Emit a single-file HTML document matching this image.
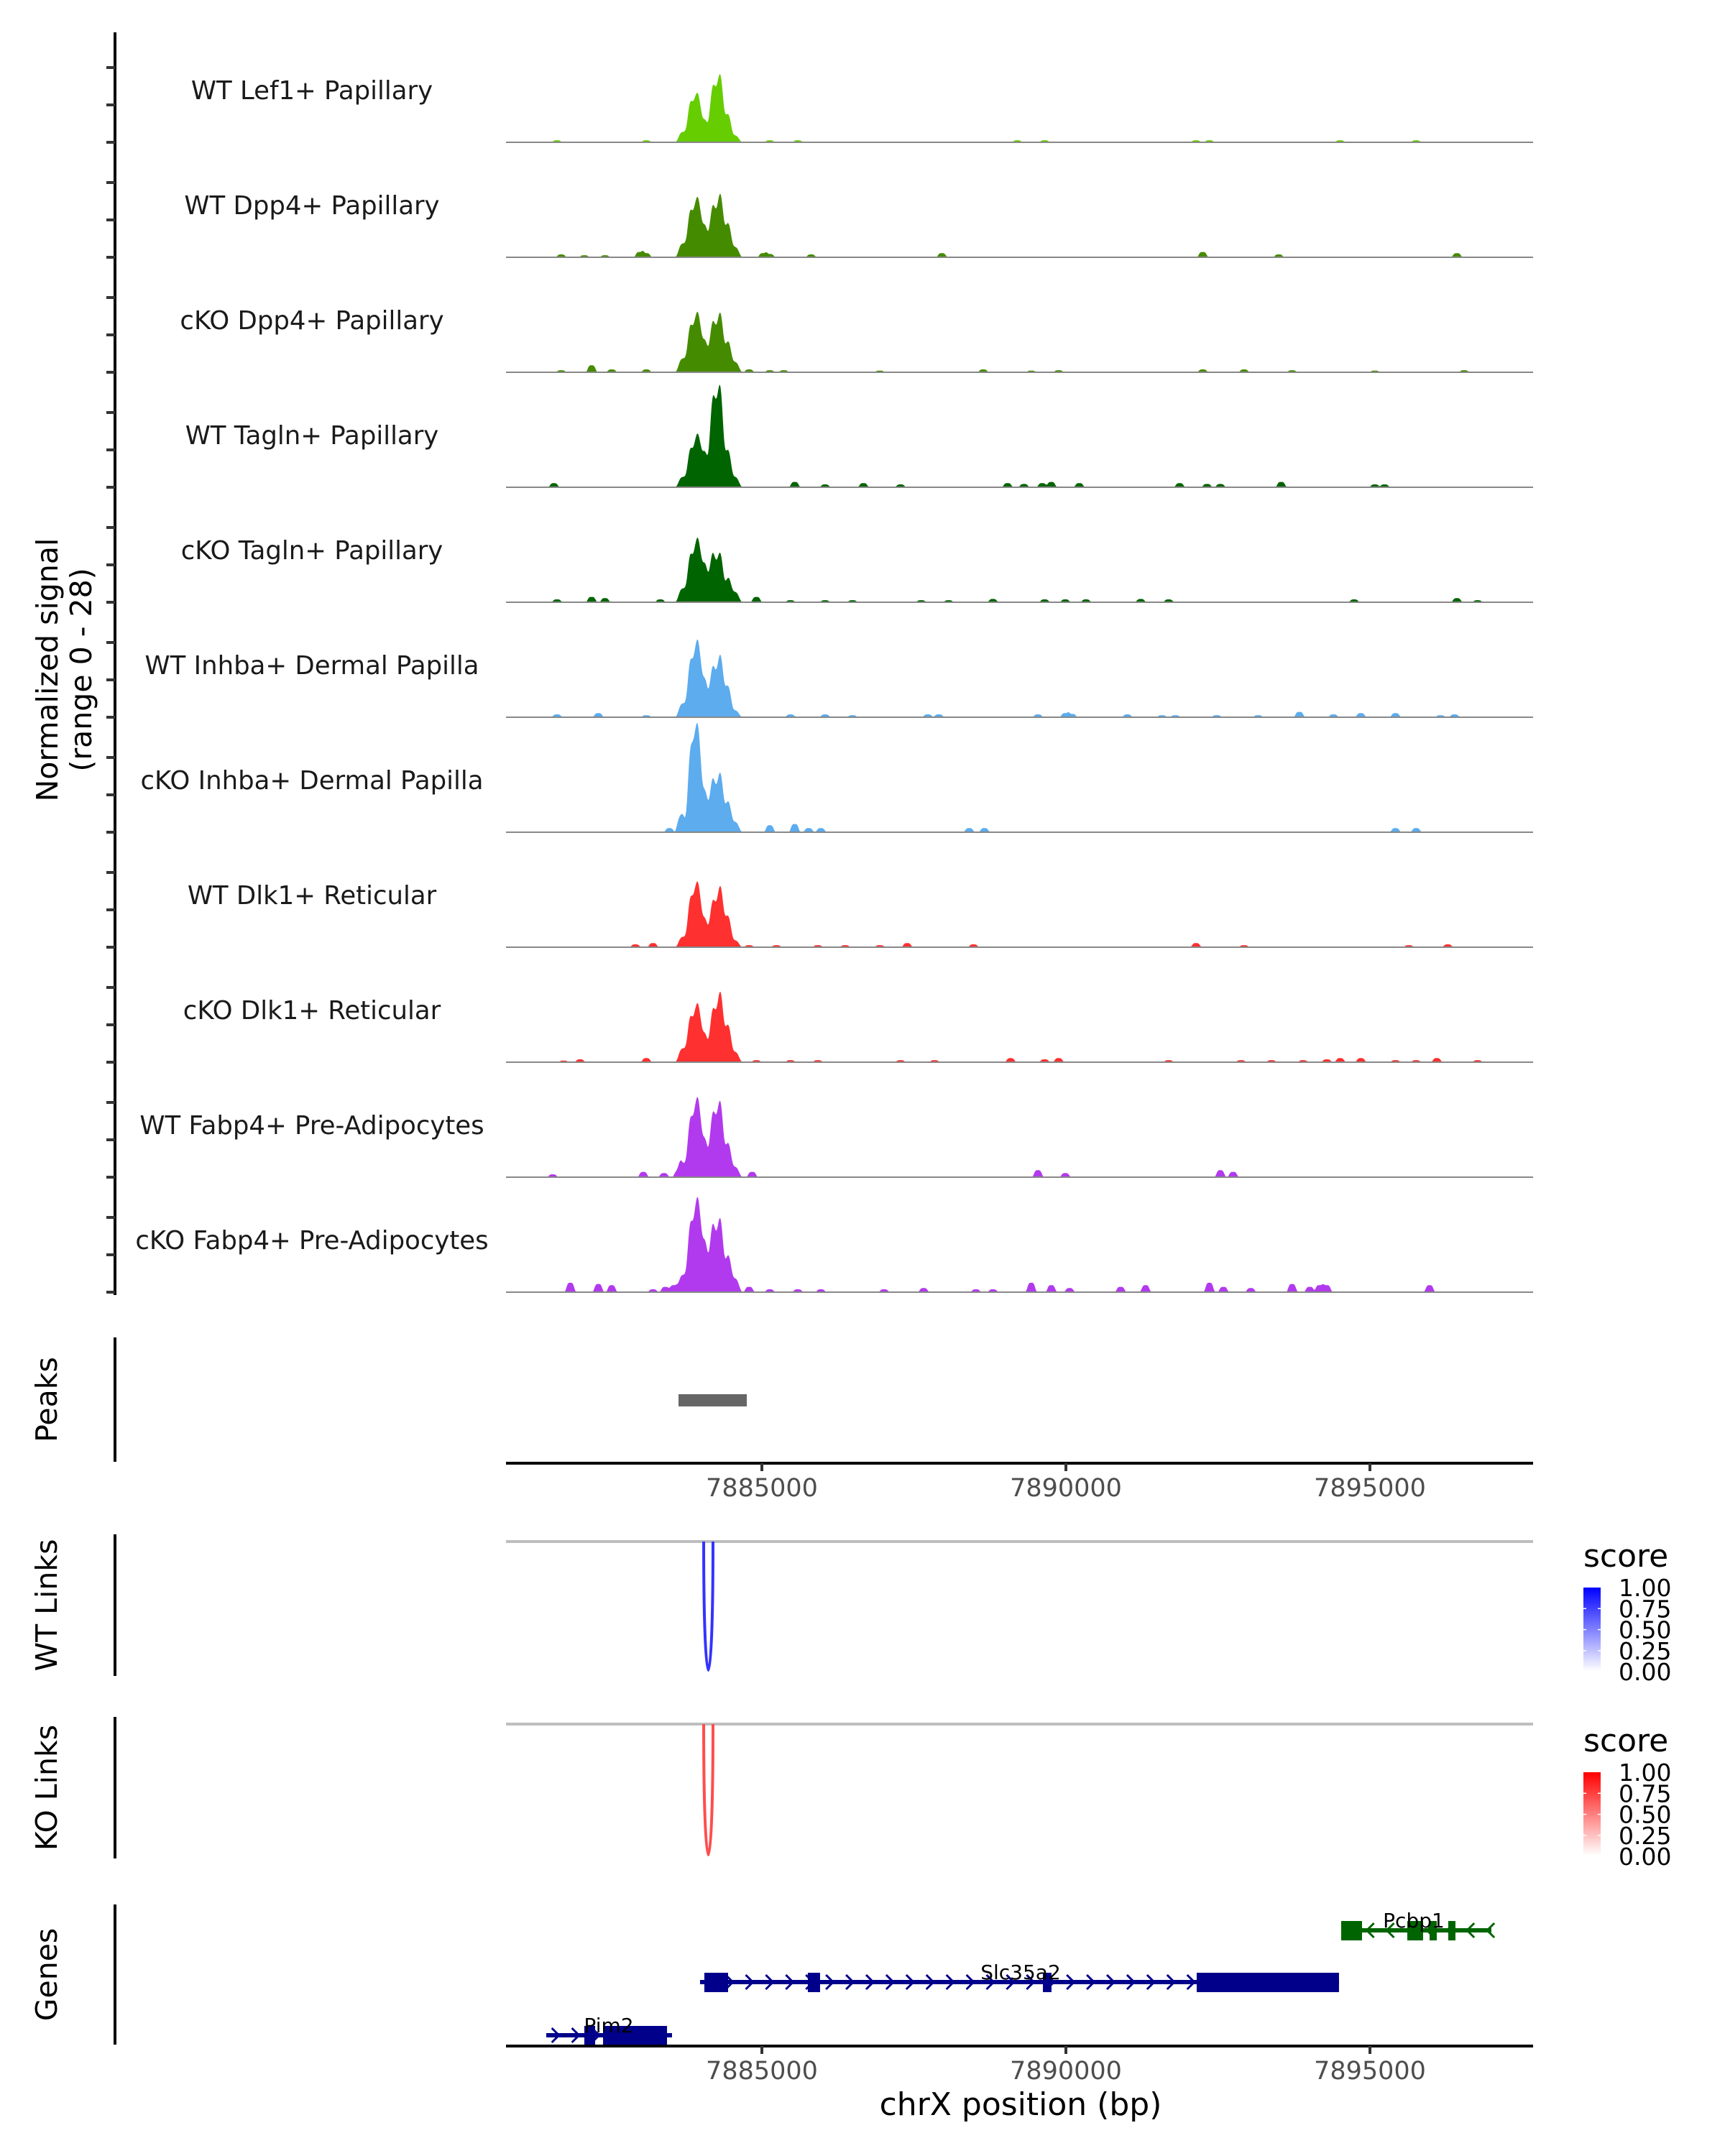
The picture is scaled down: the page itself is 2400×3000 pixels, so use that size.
<!DOCTYPE html>
<html><head><meta charset="utf-8"><style>
html,body{margin:0;padding:0;background:#fff}
svg{display:block;font-family:"DejaVu Sans","Liberation Sans",sans-serif}
</style></head><body>
<svg id="fig" width="2400" height="3000" viewBox="0 0 2400 3000" xmlns="http://www.w3.org/2000/svg">
<defs>
<linearGradient id="gBlue" x1="0" y1="1" x2="0" y2="0"><stop offset="0" stop-color="#ffffff"/><stop offset="1" stop-color="#0000ff"/></linearGradient>
<linearGradient id="gRed" x1="0" y1="1" x2="0" y2="0"><stop offset="0" stop-color="#ffffff"/><stop offset="1" stop-color="#ff0000"/></linearGradient>
</defs>
<g id="root"></g>
</svg>
<script>
// ---------- data ----------
const trackNames=["WT Lef1+ Papillary","WT Dpp4+ Papillary","cKO Dpp4+ Papillary","WT Tagln+ Papillary","cKO Tagln+ Papillary","WT Inhba+ Dermal Papilla","cKO Inhba+ Dermal Papilla","WT Dlk1+ Reticular","cKO Dlk1+ Reticular","WT Fabp4+ Pre-Adipocytes","cKO Fabp4+ Pre-Adipocytes"];
const trackColors=["#66cd00","#458b00","#458b00","#006400","#006400","#5cacee","#5cacee","#ff3030","#ff3030","#b23aee","#b23aee"];
const mainPos=[7883732,7883890,7884003,7884116,7884252,7884387,7884523];
const mainVals=[
[3,11,4,3,15,7,2],
[4,12.4,6,4,12.7,8,3],
[4,12.4,6,4,12.4,7,3],
[3,10.4,6,5,23.8,9,3],
[4,12.7,7,5,11,5,3],
[4,15.7,8,4,12.4,8,2],
[3,25,8,5,12.4,7,3],
[3,14,6,3,12,8,2],
[4,12,6,3,14,9,3],
[4,16.4,8,4,16.7,8,3],
[5,19,10,6,16,8,4]];
const smallPos=[
[7881630,7883100,7885130,7885590,7889200,7889650,7892140,7892360,7894510,7895760],
[7881700,7882080,7882420,7882990,7883100,7885020,7885130,7885810,7887960,7892250,7893500,7896430],
[7881700,7882200,7882530,7883100,7884790,7885130,7885360,7886940,7888640,7889430,7889880,7892250,7892930,7893720,7895080,7896550],
[7881580,7885540,7886040,7886670,7887280,7889040,7889310,7889610,7889760,7890220,7891870,7892320,7892540,7893540,7895080,7895240],
[7881630,7882200,7882420,7883330,7884910,7885470,7886040,7886490,7887620,7888070,7888800,7889650,7889990,7890330,7891230,7891690,7894740,7896430,7896770],
[7881630,7882310,7883100,7885470,7886040,7886490,7887730,7887910,7889540,7889990,7890100,7891010,7891580,7891800,7892480,7893160,7893840,7894400,7894850,7895420,7896160,7896390],
[7883480,7883660,7885130,7885540,7885770,7885970,7888410,7888660,7895420,7895760],
[7882920,7883210,7884790,7885240,7885920,7886370,7886940,7887390,7888480,7892140,7892930,7895640,7896280],
[7881740,7882010,7883100,7884910,7885470,7885920,7887280,7887840,7889090,7889650,7889880,7891690,7892880,7893380,7893900,7894290,7894510,7894850,7895420,7895760,7896100,7896770],
[7881560,7883050,7883390,7883620,7884840,7889540,7889990,7892540,7892750],
[7881850,7882310,7882530,7883210,7883410,7883550,7884790,7885130,7885590,7885970,7887010,7887660,7888520,7888800,7889430,7889760,7890060,7890900,7891310,7892360,7892590,7893040,7893720,7894010,7894170,7894290,7895980]];
const smallVals=[
[0.5,0.5,0.5,0.5,0.5,0.5,0.5,0.5,0.5,0.5],
[0.7,0.5,0.5,1.3,1,1,0.8,0.7,1,1.3,0.7,1],
[0.5,1.7,0.7,0.7,0.7,0.5,0.5,0.4,0.7,0.4,0.5,0.7,0.7,0.5,0.4,0.5],
[1,1.3,0.7,1,0.7,1,0.8,1,1.3,1,1,0.8,0.8,1.3,0.7,0.7],
[0.7,1.3,1,0.7,1.3,0.5,0.5,0.5,0.5,0.5,0.8,0.7,0.7,0.7,0.8,0.7,0.7,1,0.5],
[0.7,1,0.5,0.7,0.7,0.5,0.7,0.7,0.7,1,0.8,0.7,0.5,0.5,0.5,0.5,1.3,0.7,1,1,0.5,0.7],
[1,2,1.7,2,1,1,1,1,1,1],
[0.7,1,0.5,0.5,0.5,0.5,0.5,1,0.7,1,0.5,0.5,0.7],
[0.4,0.7,1,0.5,0.5,0.5,0.5,0.5,1,0.7,1,0.5,0.5,0.5,0.5,0.7,1,1,0.5,0.5,1,0.5],
[0.7,1.3,1,1.3,1.3,1.7,1,1.7,1.3],
[2.3,2,1.7,0.7,1.3,1.7,1.3,0.7,0.7,0.7,0.7,1,0.7,0.7,2.3,1.7,1,1.3,1.7,2.3,1.3,1,2,1.3,1.7,1.7,1.7]];
const xTicks=[7885000,7890000,7895000];
const peakStarts=[7883629];
const peakEnds=[7884752];
const wtLinkStart=[7884043], wtLinkEnd=[7884196], wtLinkScore=[0.8];
const koLinkStart=[7884043], koLinkEnd=[7884196], koLinkScore=[0.7];
const geneNames=["Pcbp1","Slc35a2","Pim2"];
const geneStarts=[7894527,7883983,7881454];
const geneEnds=[7896997,7894491,7883522];
const geneStrand=[-1,1,1];
const geneColors=["#006400","#00008b","#00008b"];
const exonStarts=[[7894527,7895614,7895981,7896288],[7884054,7885756,7889622,7892151],[7882080,7882388]];
const exonEnds=[[7894870,7895874,7896099,7896406],[7884444,7885957,7889763,7894491],[7882258,7883440]];
const legendTicks=["1.00","0.75","0.50","0.25","0.00"];

// ---------- scales ----------
const NS="http://www.w3.org/2000/svg";
const root=document.getElementById('root');
const X0=704,X1=2133;
function sx(bp){return 1060+(bp-7885000)/5000*423;}
const bpMin=7885000+(X0-1060)/423*5000, bpMax=7885000+(X1-1060)/423*5000;
const base0=198, step=160, maxVal=28;
function sy(v,b){return b-v/maxVal*step;}
function el(tag,attrs,parent){const e=document.createElementNS(NS,tag);for(const k in attrs)e.setAttribute(k,attrs[k]);(parent||root).appendChild(e);return e;}
function txt(s,attrs,parent){const e=el('text',attrs,parent);e.textContent=s;return e;}

// ---------- coverage tracks ----------
let ax=el('line',{x1:160,y1:45,x2:160,y2:base0+10*step+4,stroke:'#000','stroke-width':4});


for(let t=0;t<trackNames.length;t++){
  const b=base0+t*step;
  const g=el('g',{});
  
  
  for(const d of [0,52,104]){
    const tk=el('line',{x1:148,y1:b-d,x2:160,y2:b-d,stroke:'#333','stroke-width':4},g);
    
    
  }
  const lb=txt(trackNames[t],{x:434,y:b-60,'font-size':35.5,'text-anchor':'middle',fill:'#1a1a1a'},g);
  
  
  let d='M'+X0+','+b;
  for(let p=bpMin;p<=bpMax;p+=12){
    let v=0;
    for(let i=0;i<mainPos.length;i++){const z=(p-mainPos[i])/85;v+=mainVals[t][i]*0.85*Math.exp(-z*z*z*z/3);}
    for(let i=0;i<smallPos[t].length;i++){const z=(p-smallPos[t][i])/70;v+=smallVals[t][i]*Math.exp(-z*z*z*z);}
    d+='L'+sx(p).toFixed(1)+','+sy(Math.min(v,maxVal),b).toFixed(1);
  }
  d+='L'+X1+','+b+'Z';
  const ar=el('path',{d:d,fill:trackColors[t],stroke:'none'},g);
  
  
  const bl=el('line',{x1:X0,y1:b,x2:X1,y2:b,stroke:'#888','stroke-width':2},g);
  
  
}
let yt=txt('Normalized signal',{x:0,y:0,'font-size':41,'text-anchor':'middle',fill:'#000',transform:'translate(80,932) rotate(-90)'});


let yt2=txt('(range 0 - 28)',{x:0,y:0,'font-size':41,'text-anchor':'middle',fill:'#000',transform:'translate(127,932) rotate(-90)'});



function panel(name,y1,y2,label){
  const a=el('line',{x1:160,y1:y1,x2:160,y2:y2,stroke:'#000','stroke-width':4});
  
  
  const l=txt(label,{x:0,y:0,'font-size':41,'text-anchor':'middle',fill:'#000',transform:'translate(79,'+((y1+y2)/2)+') rotate(-90)'});
  
  
}
panel('peaks',1861,2034,'Peaks');
for(let i=0;i<peakStarts.length;i++){
  const r=el('rect',{x:sx(peakStarts[i]),y:1940,width:sx(peakEnds[i])-sx(peakStarts[i]),height:17,fill:'#666'});
  
  
}
function xaxis(y,name){
  const l=el('line',{x1:X0,y1:y,x2:X1,y2:y,stroke:'#000','stroke-width':4});
  
  
  for(const t of xTicks){
    const tk=el('line',{x1:sx(t),y1:y,x2:sx(t),y2:y+11,stroke:'#333','stroke-width':4});
    
    
    const tl=txt(String(t),{x:sx(t),y:y+46,'font-size':35,'text-anchor':'middle',fill:'#4d4d4d'});
    
    
  }
}
xaxis(2036,'peaks-x-axis');

function links(name,y0,yb,starts,ends,scores,rgb,grad,legY){
  panel(name,y0-10,y0+187,name==='wt-links'?'WT Links':'KO Links');
  const bl=el('line',{x1:X0,y1:y0,x2:X1,y2:y0,stroke:'#bebebe','stroke-width':4});
  
  
  for(let i=0;i<starts.length;i++){
    const a=sx(starts[i]),b=sx(ends[i]),c=y0+(yb-y0)/0.75;
    const s=scores[i];
    const col='rgb('+rgb.map(v=>Math.round(255+(v-255)*s)).join(',')+')';
    const p=el('path',{d:'M'+a+','+y0+' C'+a+','+c+' '+b+','+c+' '+b+','+y0,fill:'none',stroke:col,'stroke-width':4});
    
    
  }
  const lg=el('g',{});
  
  
  txt('score',{x:2203,y:legY,'font-size':44,fill:'#000'},lg);
  el('rect',{x:2203,y:legY+29,width:24,height:116,fill:'url(#'+grad+')'},lg);
  for(let k=0;k<legendTicks.length;k++){
    const yy=legY+41+k*29.3;
    if(k>0&&k<4){el('line',{x1:2203,y1:yy-12,x2:2207,y2:yy-12,stroke:'#fff','stroke-width':1.5},lg);el('line',{x1:2223,y1:yy-12,x2:2227,y2:yy-12,stroke:'#fff','stroke-width':1.5},lg);}
    txt(legendTicks[k],{x:2252,y:yy,'font-size':33,fill:'#000'},lg);
  }
}
links('wt-links',2145,2324,wtLinkStart,wtLinkEnd,wtLinkScore,[0,0,255],'gBlue',2180);
links('ko-links',2399,2581,koLinkStart,koLinkEnd,koLinkScore,[255,0,0],'gRed',2437);

panel('genes',2650,2845,'Genes');
const rowY=[2686,2758,2832];
for(let g=0;g<geneNames.length;g++){
  const grp=el('g',{});
  
  
  const y=rowY[g],col=geneColors[g];
  el('line',{x1:sx(geneStarts[g]),y1:y,x2:sx(geneEnds[g]),y2:y,stroke:col,'stroke-width':6},grp);
  for(let p=geneStarts[g]+150;p<geneEnds[g];p+=330){
    const x=sx(p),d=geneStrand[g]*5;
    el('path',{d:'M'+(x-d)+','+(y-10)+' L'+(x+d)+','+y+' L'+(x-d)+','+(y+10),fill:'none',stroke:col,'stroke-width':3},grp);
  }
  for(let e=0;e<exonStarts[g].length;e++){
    el('rect',{x:sx(exonStarts[g][e]),y:y-13,width:sx(exonEnds[g][e])-sx(exonStarts[g][e]),height:27,fill:col},grp);
  }
  const lab=txt(geneNames[g],{x:(g===0?1967:(g===1?1420:847)),y:y-4,'font-size':28,'text-anchor':'middle',fill:'#000'},grp);
  
  
}
xaxis(2847,'genes-x-axis');
let xt=txt('chrX position (bp)',{x:1420,y:2943,'font-size':44,'text-anchor':'middle',fill:'#000'});


</script>
</body></html>
